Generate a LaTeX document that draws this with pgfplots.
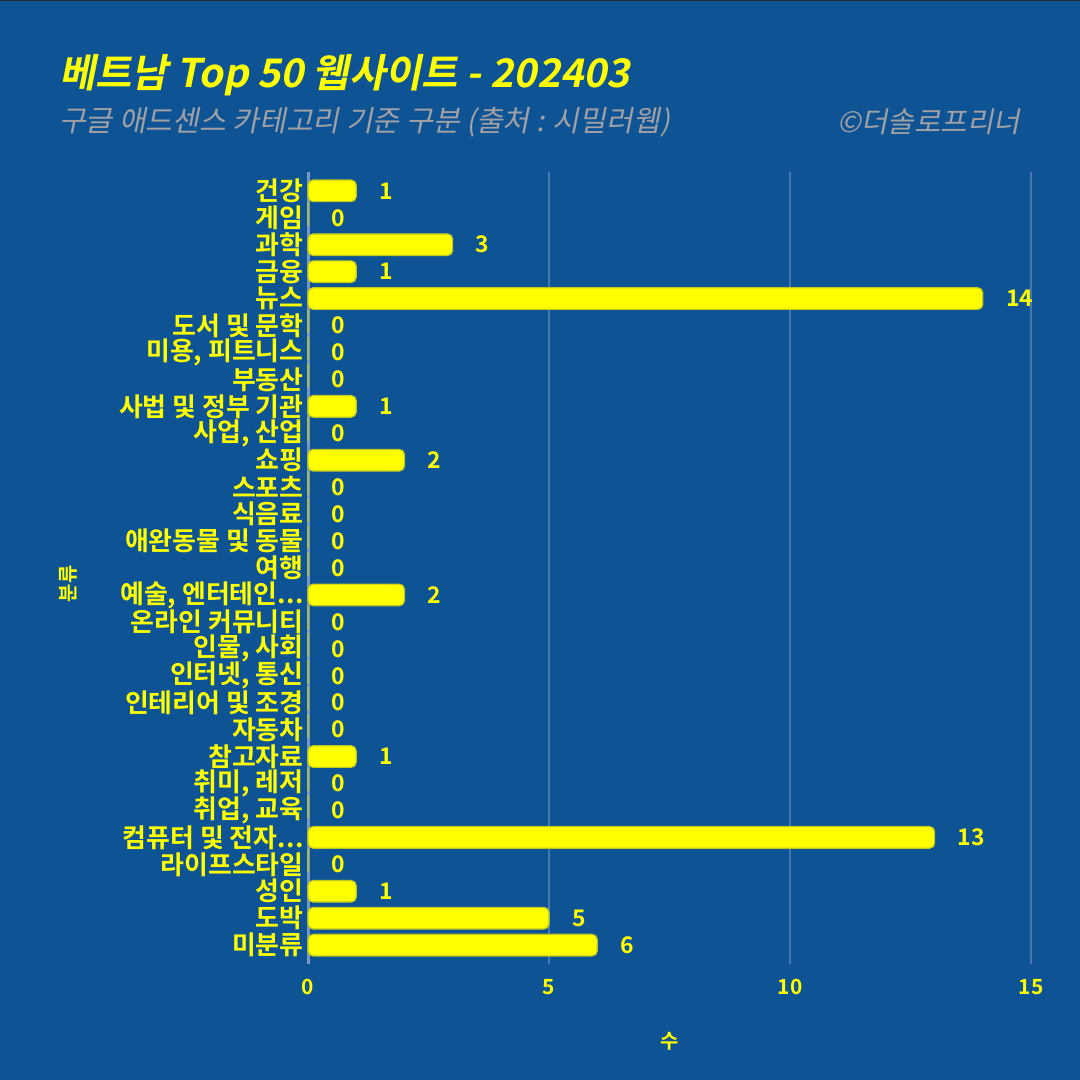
\documentclass[border=0pt]{standalone}
\usepackage{pgfplots}
\pgfplotsset{compat=1.18}
\usepackage{fontspec}
\setmainfont{Noto Sans CJK KR}[BoldFont={Noto Sans CJK KR Bold}]
\newfontfamily\krb{Noto Sans CJK KR Bold}
\newfontfamily\krbi{Noto Sans CJK KR Bold}[FakeSlant=0.2]
\newfontfamily\kri{Noto Sans CJK KR}[FakeSlant=0.2]
\definecolor{bg}{RGB}{14,84,148}
\definecolor{ylw}{RGB}{255,255,0}
\definecolor{barbd}{RGB}{190,200,30}
\definecolor{subg}{RGB}{160,160,165}
\definecolor{gridc}{RGB}{70,120,175}
\definecolor{axc}{RGB}{120,150,190}
\newcommand\ddd{.\kern0.2pt.\kern0.2pt.}
\pgfplotstableread{
idx val
0 1
1 0
2 3
3 1
4 14
5 0
6 0
7 0
8 1
9 0
10 2
11 0
12 0
13 0
14 0
15 2
16 0
17 0
18 0
19 0
20 0
21 1
22 0
23 0
24 13
25 0
26 1
27 5
28 6
}\datatab
\begin{document}
\begin{tikzpicture}[x=1bp,y=1bp]
\useasboundingbox (0,0) rectangle (540,540);
\fill[bg] (-5,-5) rectangle (545,545);
\fill[black!85] (-5,539.3) rectangle (545,545);
\node[anchor=west,text=ylw,font=\krbi\fontsize{19.8}{23}\selectfont] at (26,502.5) {베트남 Top 50 웹사이트 - 202403};
\node[anchor=west,text=subg,font=\kri\fontsize{14.6}{17}\selectfont] at (26,479) {구글 애드센스 카테고리 기준 구분 (출처 : 시밀러웹)};
\node[anchor=east,text=subg,font=\kri\fontsize{14.4}{17}\selectfont] at (513.5,479) {©더솔로프리너};
\begin{axis}[
  at={(154bp,58bp)}, anchor=south west,
  scale only axis, width=361.5bp, height=396bp,
  xmin=0, xmax=15, ymin=-0.7, ymax=28.7,
  y dir=reverse,
  axis line style={draw=none},
  xtick={0,5,10,15},
  ytick={0,...,28},
  yticklabels={건강,게임,과학,금융,뉴스,도서 및 문학,{미용, 피트니스},부동산,사법 및 정부 기관,{사업, 산업},쇼핑,스포츠,식음료,애완동물 및 동물,여행,{예술, 엔터테인\ddd},온라인 커뮤니티,{인물, 사회},{인터넷, 통신},인테리어 및 조경,자동차,참고자료,{취미, 레저},{취업, 교육},컴퓨터 및 전자\ddd,라이프스타일,성인,도박,미분류},
  major tick length=0pt,
  xmajorgrids, grid style={gridc, line width=0.8bp},
  ticklabel style={text=ylw, font=\krb\fontsize{10.5}{12}\selectfont},
  yticklabel style={xshift=-1bp, inner sep=1bp, font=\krb\fontsize{13}{14}\selectfont},
  xticklabel style={yshift=-4bp},
  /pgf/number format/assume math mode=true,
  xlabel={수}, ylabel={분류},
  label style={text=ylw, font=\krb\fontsize{10}{12}\selectfont},
  xlabel style={yshift=-12bp},
  ylabel style={at={(axis description cs:-0.31,0.48)}},
  xbar, bar width=10.8bp,
  nodes near coords,
  every node near coord/.append style={anchor=west, xshift=8bp, text=ylw, font=\krb\fontsize{11.5}{12}\selectfont},
  clip=false,
]
\draw[axc, line width=1.5bp] (axis cs:0,-0.7) -- (axis cs:0,28.7);
\addplot[fill=ylw, draw=barbd, line width=0.6bp, rounded corners=2.5bp] table[x=val,y=idx] {\datatab};
\end{axis}
\end{tikzpicture}
\end{document}
